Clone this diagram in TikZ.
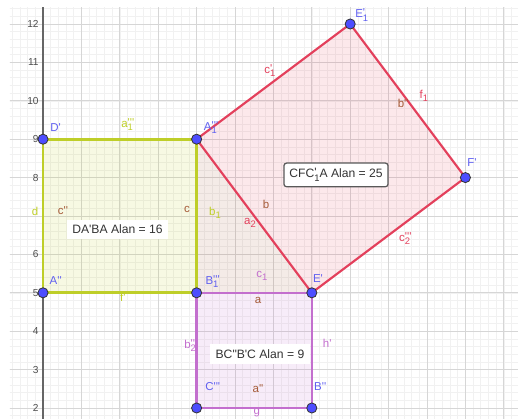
\documentclass[tikz,border=0pt]{standalone}
\usepackage{fontspec}
\setmainfont{Liberation Sans}[Ligatures=TeXOff]
\usepackage{tikz}
\usetikzlibrary{positioning}
\definecolor{amarillo}{RGB}{190,206,40}
\definecolor{rosa}{RGB}{227,64,92}
\definecolor{morado}{RGB}{195,111,206}
\definecolor{marron}{RGB}{165,90,55}
\definecolor{azulpt}{RGB}{77,77,255}
\definecolor{azuletq}{RGB}{96,96,240}
% letra con primas arriba y subindice abajo
\newcommand{\rot}[3]{#1\makebox[0pt][l]{\raisebox{0.15ex}{#2}}\raisebox{-0.55ex}{\fontsize{7}{8}\selectfont #3}}
\tikzset{
  rejilla/.style={gray!32,line width=0.6pt},
  rejillafina/.style={gray!11,line width=0.4pt},
  eje/.style={gray!80!black,line width=0.9pt},
  num/.style={font=\fontsize{7.5}{8}\selectfont,text=black!70,anchor=east,inner sep=0pt},
  pt/.style={circle,fill=azulpt,draw=black!80,line width=0.6pt,inner sep=0pt,minimum size=7.5pt},
  etq/.style={font=\fontsize{8.5}{10}\selectfont,inner sep=0pt},
  nombre/.style={etq,text=azuletq},
  caja/.style={fill=white,font=\fontsize{9}{11}\selectfont,text=black!80,inner xsep=4pt,inner ysep=4pt}
}

\begin{document}
\begin{tikzpicture}[x=1cm,y=1cm]
\useasboundingbox (-1.12,1.714) rectangle (12.37,12.625);
% rejilla
\begin{scope}
\clip (-0.86,1.714) rectangle (12.37,12.44);
\draw[rejillafina] (-1,1.6) grid[step=0.2] (12.4,12.6);
\draw[rejilla] (-1,1) grid[step=1] (12.4,12.6);
\end{scope}
\draw[eje] (0,1.714) -- (0,12.44);
\foreach \y in {2,3,4,5,6,8,9,10,11,12}
  \node[num] (n\y) at (-0.11,\y) {\y};
% vertices
\coordinate (App) at (0,5);
\coordinate (Dp) at (0,9);
\coordinate (Att) at (4,9);
\coordinate (Btt) at (4,5);
\coordinate (Ep) at (7,5);
\coordinate (Bpp) at (7,2);
\coordinate (Ctt) at (4,2);
\coordinate (Eu) at (8,12);
\coordinate (Fp) at (11,8);
% rellenos
\fill[amarillo,opacity=0.13] (App) -- (Dp) -- (Att) -- (Btt) -- cycle;
\fill[rosa,opacity=0.12] (Att) -- (Eu) -- (Fp) -- (Ep) -- cycle;
\fill[morado,opacity=0.13] (Btt) -- (Ep) -- (Bpp) -- (Ctt) -- cycle;
\fill[marron,opacity=0.12] (Att) -- (Btt) -- (Ep) -- cycle;
% lados
\draw[amarillo,line width=2pt] (App) -- (Dp) -- (Att) -- (Btt) -- cycle;
\draw[morado,line width=1.8pt] (Btt) -- (Ep) -- (Bpp) -- (Ctt) -- cycle;
\draw[rosa,line width=1.6pt] (Att) -- (Eu) -- (Fp) -- (Ep) -- cycle;
% puntos
\foreach \p in {App,Dp,Att,Btt,Ep,Bpp,Ctt,Eu,Fp}
  \node[pt] (pt\p) at (\p) {};
% nombres de puntos
\node[nombre] (lDp) at (0.33,9.3) {D'};
\node[nombre] (lAtt) at (4.36,9.3) {\rot{A}{'''}{1}};
\node[nombre] (lEu) at (8.3,12.23) {\rot{E}{'}{1}};
\node[nombre] (lFp) at (11.17,8.38) {F'};
\node[nombre] (lEp) at (7.16,5.36) {E'};
\node[nombre] (lBtt) at (4.4,5.3) {\rot{B}{'''}{1}};
\node[nombre] (lApp) at (0.33,5.31) {A''};
\node[nombre] (lCtt) at (4.42,2.57) {C'''};
\node[nombre] (lBpp) at (7.22,2.57) {B''};
% nombres de lados
\node[etq,text=amarillo] (la1) at (2.19,9.38) {\rot{a}{'''}{1}};
\node[etq,text=amarillo] (ld) at (-0.21,7.13) {d};
\node[etq,text=amarillo] (lb1) at (4.48,7.08) {\rot{b}{}{1}};
\node[etq,text=amarillo] (lf) at (2.08,4.89) {f'};
\node[etq,text=marron] (lc2) at (0.52,7.13) {c''};
\node[etq,text=marron] (lc) at (3.75,7.16) {c};
\node[etq,text=marron] (lb) at (5.81,7.29) {b};
\node[etq,text=marron] (lb2) at (9.38,9.92) {b''};
\node[etq,text=marron] (la) at (5.6,4.81) {a};
\node[etq,text=marron] (la2) at (5.6,2.5) {a''};
\node[etq,text=rosa] (lr1) at (5.39,6.82) {\rot{a}{}{2}};
\node[etq,text=rosa] (lr2) at (5.91,10.78) {\rot{c}{'}{1}};
\node[etq,text=rosa] (lr3) at (9.92,10.13) {\rot{f}{}{1}};
\node[etq,text=rosa] (lr4) at (9.42,6.41) {\rot{c}{'''}{2}};
\node[etq,text=morado] (lm1) at (5.7,5.44) {\rot{c}{}{1}};
\node[etq,text=morado] (lm2) at (3.83,3.62) {\rot{b}{''}{2}};
\node[etq,text=morado] (lm3) at (7.4,3.69) {h'};
\node[etq,text=morado] (lm4) at (5.57,1.87) {g};
% areas
\node[caja,draw=black!65,line width=0.9pt,rounded corners=2pt] (areaRosa) at (7.63,8.07) {CFC\rot{}{'}{1}A Alan = 25};
\node[caja] (areaAmarillo) at (1.94,6.65) {DA'BA Alan = 16};
\node[caja] (areaMorado) at (5.65,3.41) {BC"B'C Alan = 9};
\end{tikzpicture}
\end{document}
